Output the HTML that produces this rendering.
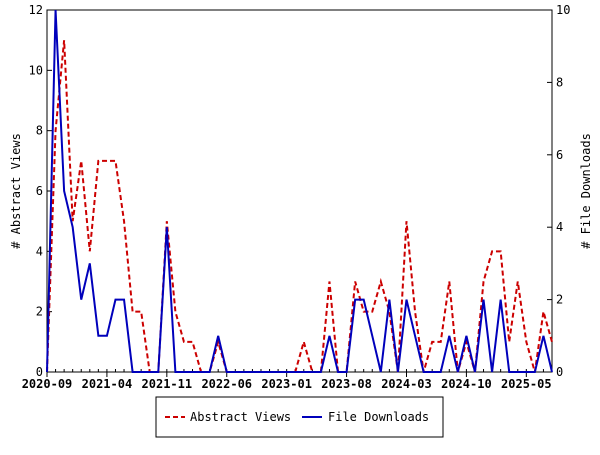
<!DOCTYPE html>
<html><head><meta charset="utf-8"><style>
body{margin:0;background:#fff;width:600px;height:450px;overflow:hidden}
text{font-family:"DejaVu Sans Mono","Liberation Mono",monospace;font-size:12px;fill:#000}
</style></head><body>
<svg id="chart" width="600" height="450" xmlns="http://www.w3.org/2000/svg"></svg>
<script>
const xTickLabels=["2020-09","2021-04","2021-11","2022-06","2023-01","2023-08","2024-03","2024-10","2025-05"];
const leftTicks=[0,2,4,6,8,10,12];
const rightTicks=[0,2,4,6,8,10];
const abstractViews=[0,8,11,5,7,4,7,7,7,5,2,2,0,0,5,2,1,1,0,0,1,0,0,0,0,0,0,0,0,0,1,0,0,3,0,0,3,2,2,3,2,0,5,2,0,1,1,3,0,1,0,3,4,4,1,3,1,0,2,1];
const fileDownloads=[0,10,5,4,2,3,1,1,2,2,0,0,0,0,4,0,0,0,0,0,1,0,0,0,0,0,0,0,0,0,0,0,0,1,0,0,2,2,1,0,2,0,2,1,0,0,0,1,0,1,0,2,0,2,0,0,0,0,1,0];
const svg=document.getElementById('chart');
const NS='http://www.w3.org/2000/svg';
const X0=47,X1=552,Y0=372,Y1=10,N=abstractViews.length;
const xs=i=>X0+(X1-X0)*i/(N-1);
const yl=v=>Y0-(Y0-Y1)*v/12;
const yr=v=>Y0-(Y0-Y1)*v/10;
function mk(t,a,p){const e=document.createElementNS(NS,t);for(const k in a)e.setAttribute(k,a[k]);(p||svg).appendChild(e);return e;}
const frame=mk('rect',{x:X0,y:Y1,width:X1-X0,height:Y0-Y1,fill:'none',stroke:'#000','stroke-width':1});


leftTicks.forEach(v=>{
 const t=mk('line',{x1:X0,x2:X0+5,y1:yl(v),y2:yl(v),stroke:'#000'});
 
 
 const l=mk('text',{x:X0-4,y:yl(v)+4,'text-anchor':'end'});l.textContent=v;
 
 
});
rightTicks.forEach(v=>{
 const t=mk('line',{x1:X1-5,x2:X1,y1:yr(v),y2:yr(v),stroke:'#000'});
 
 
 const l=mk('text',{x:X1+4,y:yr(v)+4,'text-anchor':'start'});l.textContent=v;
 
 
});
xTickLabels.forEach((s,k)=>{
 const x=xs(k*7);
 const t=mk('line',{x1:x,x2:x,y1:Y0,y2:Y0+5,stroke:'#000'});
 
 
 const l=mk('text',{x:x,y:Y0+16,'text-anchor':'middle','font-weight':'bold'});l.textContent=s;
 
 
});
for(let i=0;i<N;i++){const x=xs(i);
 const t=mk('line',{x1:x,x2:x,y1:Y0,y2:Y0-3,stroke:'#000'});
 
 }
const lt=mk('text',{x:0,y:0,'text-anchor':'middle',transform:'translate(20,191) rotate(-90)'});lt.textContent='# Abstract Views';


const rt=mk('text',{x:0,y:0,'text-anchor':'middle',transform:'translate(590,191) rotate(-90)'});rt.textContent='# File Downloads';


const p1=mk('polyline',{points:abstractViews.map((v,i)=>xs(i)+','+yl(v)).join(' '),fill:'none',stroke:'#cc0000','stroke-width':2,'stroke-dasharray':'5,3'});


const p2=mk('polyline',{points:fileDownloads.map((v,i)=>xs(i)+','+yr(v)).join(' '),fill:'none',stroke:'#0000bb','stroke-width':2});


const g=mk('g',{});


mk('rect',{x:156,y:397,width:287,height:40,fill:'#fff',stroke:'#000'},g);
mk('line',{x1:165,x2:185,y1:417,y2:417,stroke:'#cc0000','stroke-width':2,'stroke-dasharray':'5,3'},g);
const a=mk('text',{x:190,y:421},g);a.textContent='Abstract Views';


mk('line',{x1:302,x2:322,y1:417,y2:417,stroke:'#0000bb','stroke-width':2},g);
const b=mk('text',{x:328,y:421},g);b.textContent='File Downloads';


</script>
</body></html>
